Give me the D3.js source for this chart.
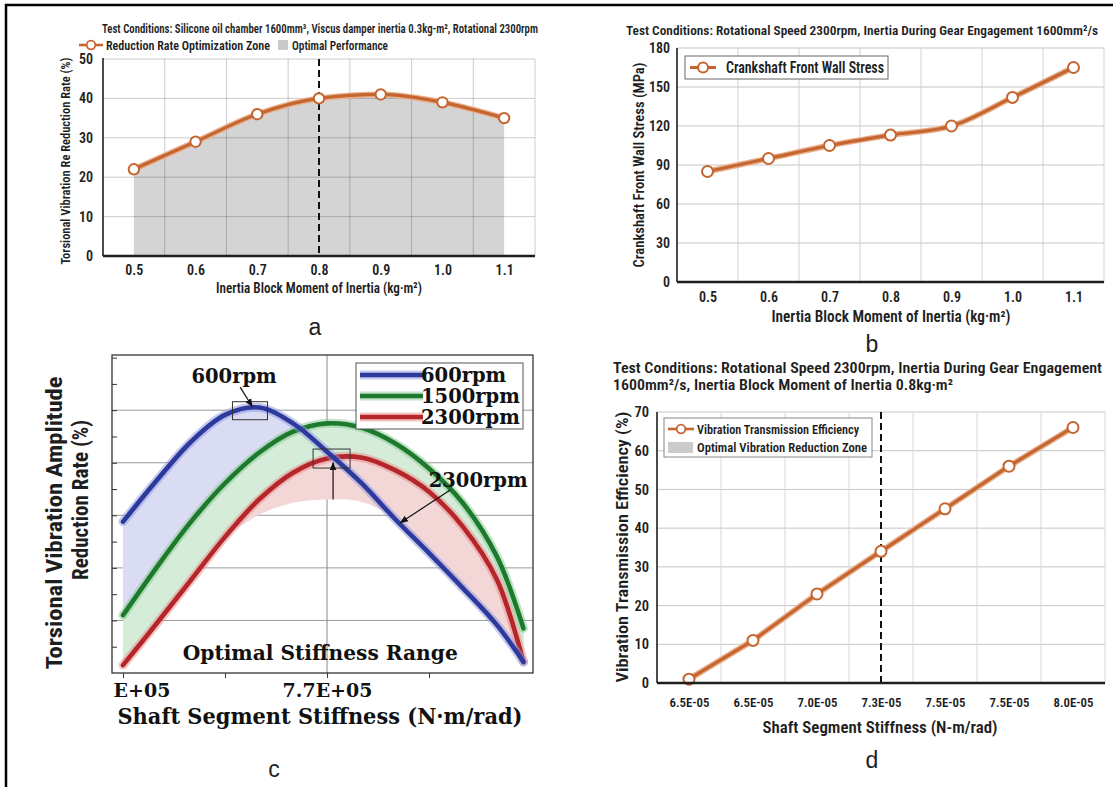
<!DOCTYPE html>
<html><head><meta charset="utf-8">
<script src="https://cdn.jsdelivr.net/npm/d3@7"></script>
<style>
body{margin:0;background:#fff;}
svg{display:block;}
.cond{font-family:"Liberation Sans Narrow","Roboto Condensed","Arial Narrow","DejaVu Sans Condensed","Liberation Sans",sans-serif;font-weight:600;}
</style></head><body>
<svg id="chart" width="1113" height="787"></svg>
<script>
// ---------- data ----------
const inertia = [0.5, 0.6, 0.7, 0.8, 0.9, 1.0, 1.1];
const reductionRate = [22, 29, 36, 40, 41, 39, 35];
const optimalInertia = 0.8;
const wallStress = [85, 95, 105, 113, 120, 142, 165];
const yTicksA = [0, 10, 20, 30, 40, 50];
const yTicksB = [0, 30, 60, 90, 120, 150, 180];

const stiffnessTickLabelsD = ["6.5E-05", "6.5E-05", "7.0E-05", "7.3E-05", "7.5E-05", "7.5E-05", "8.0E-05"];
const transmissionEff = [1, 11, 23, 34, 45, 56, 66];
const optimalIndexD = 3;
const yTicksD = [0, 10, 20, 30, 40, 50, 60, 70];

// panel c (stiffness in 1e5 N·m/rad, reduction rate in %)
const stiffnessC = [5.0, 5.45, 5.9, 6.35, 6.8, 7.25, 7.7, 8.15, 8.6, 9.05, 9.5, 9.95, 10.3];
const rpm600  = [28.8, 36.7, 44.0, 49.1, 50.5, 47.5, 42.1, 36.2, 29.3, 22.8, 16.1, 9.1, 2.1];
const rpm1500 = [11.0, 20.2, 28.8, 36.1, 41.9, 45.9, 47.5, 46.7, 43.7, 38.9, 32.3, 22.1, 8.5];
const rpm2300 = [1.5, 9.5, 17.7, 25.9, 33.0, 38.1, 40.8, 41.0, 38.6, 34.5, 27.8, 17.7, 2.1];
const rpm2300Lower = [null, null, null, 25.9, 30.1, 32.4, 33.0, 32.6, 29.3, 22.8, 16.1, 9.1, 2.1];
const stiffnessTicksC = [5.0, 6.35, 7.7, 9.05];
const stiffnessTickLabelsC = ["E+05", "", "7.7E+05", ""];
const seriesNamesC = ["600rpm", "1500rpm", "2300rpm"];
const peak600 = [6.68, 49.9];
const cross2300 = [7.76, 40.8];

// ---------- helpers ----------
const svg = d3.select("#chart");
const orange = "#c5652f";
const ink = "#1e1e1e";

function addText(g, s, x, y, o = {}) {
  const t = g.append("text").attr("x", x).attr("y", y).text(s)
    .attr("font-size", o.size || 14).attr("fill", o.fill || ink)
    .attr("text-anchor", o.anchor || "start");
  if (o.weight) t.attr("font-weight", o.weight);
  if (o.family) t.style("font-family", o.family);
  if (o.len) t.attr("textLength", o.len).attr("lengthAdjust", "spacingAndGlyphs");
  if (o.rotate) t.attr("transform", `rotate(-90,${x},${y})`);
  return t;
}
function hline(g, x1, x2, y, stroke, w, dash) {
  const l = g.append("line").attr("x1", x1).attr("x2", x2).attr("y1", y).attr("y2", y)
    .attr("stroke", stroke).attr("stroke-width", w);
  if (dash) l.attr("stroke-dasharray", dash);
  return l;
}
function vline(g, x, y1, y2, stroke, w, dash) {
  const l = g.append("line").attr("x1", x).attr("x2", x).attr("y1", y1).attr("y2", y2)
    .attr("stroke", stroke).attr("stroke-width", w);
  if (dash) l.attr("stroke-dasharray", dash);
  return l;
}
function styleAxisText(sel, size) {
  sel.select(".domain").remove();
  sel.attr("font-family", null).attr("font-size", null);
  sel.selectAll("text").attr("font-size", size).attr("fill", ink);
}

// outer frame (top and left)
hline(svg, 5, 1113, 5, "#000", 2.5);
vline(svg, 6, 4, 787, "#000", 2.5);

const defs = svg.append("defs");
defs.append("marker").attr("id", "arr").attr("viewBox", "0 0 10 10").attr("refX", 9).attr("refY", 5)
  .attr("markerWidth", 7).attr("markerHeight", 7).attr("orient", "auto-start-reverse")
  .append("path").attr("d", "M0,1 L10,5 L0,9 z").attr("fill", "#111");

// ================= Panel a =================
{
  const g = svg.append("g").attr("class", "cond");
  const x = d3.scaleLinear().domain([0.45, 1.15]).range([103, 535]);
  const y = d3.scaleLinear().domain([0, 50]).range([256, 59]);
  const pts = inertia.map((v, i) => [v, reductionRate[i]]);

  g.append("path").datum(pts)
    .attr("d", d3.area().x(d => x(d[0])).y0(y(0)).y1(d => y(d[1])).curve(d3.curveMonotoneX))
    .attr("fill", "#d4d4d4");
  yTicksA.filter(v => v > 0).forEach(v => hline(g, x(0.45), x(1.15), y(v), "rgba(0,0,0,0.2)", 1));
  const vgrid = inertia.slice(1).map((v, i) => (v + inertia[i]) / 2).concat([1.15]);
  vgrid.forEach(v => vline(g, x(v), y(50), y(0), "rgba(0,0,0,0.2)", 1));
  vline(g, x(optimalInertia), y(50), y(0), "#111", 2, "7,4");

  const line = d3.line().x(d => x(d[0])).y(d => y(d[1])).curve(d3.curveMonotoneX);
  g.append("path").datum(pts).attr("d", line).attr("fill", "none").attr("stroke", "#e9b08e").attr("stroke-width", 6);
  g.append("path").datum(pts).attr("d", line).attr("fill", "none").attr("stroke", orange).attr("stroke-width", 3.2);
  g.selectAll(".mk").data(pts).join("circle").attr("cx", d => x(d[0])).attr("cy", d => y(d[1])).attr("r", 5.2)
    .attr("fill", "#fff").attr("stroke", orange).attr("stroke-width", 2);

  vline(g, x(0.45), y(50) - 1, y(0), ink, 1.6);
  hline(g, x(0.45), x(1.15), y(0), ink, 2.4);

  const ya = g.append("g").attr("transform", `translate(${x(0.45)},0)`)
    .call(d3.axisLeft(y).tickValues(yTicksA).tickSize(0).tickPadding(10));
  styleAxisText(ya, 14);
  const xa = g.append("g").attr("transform", `translate(0,${y(0)})`)
    .call(d3.axisBottom(x).tickValues(inertia).tickFormat(d3.format(".1f")).tickSize(0).tickPadding(9));
  styleAxisText(xa, 14);

  addText(g, "Test Conditions: Silicone oil chamber 1600mm³, Viscus damper inertia 0.3kg-m², Rotational 2300rpm", 320, 33, {size: 13, anchor: "middle", len: 436});
  hline(g, 79, 103, 45, orange, 2.6);
  g.append("circle").attr("cx", 91).attr("cy", 45).attr("r", 4.3).attr("fill", "#fff").attr("stroke", orange).attr("stroke-width", 1.8);
  addText(g, "Reduction Rate Optimization Zone", 106, 50, {size: 13.5, len: 164});
  g.append("rect").attr("x", 278).attr("y", 40).attr("width", 10).attr("height", 10).attr("fill", "#cacaca");
  addText(g, "Optimal Performance", 292, 50, {size: 13.5, len: 96});
  addText(g, "Torsional Vibration Re Reduction Rate (%)", 70, 161, {size: 13.5, anchor: "middle", len: 207, rotate: true});
  addText(g, "Inertia Block Moment of Inertia (kg·m²)", 319, 293, {size: 15, anchor: "middle", len: 206});
  addText(svg, "a", 315, 335, {size: 23, anchor: "middle", family: "Liberation Sans, Arial, sans-serif"});
}

// ================= Panel b =================
{
  const g = svg.append("g").attr("class", "cond");
  const x = d3.scaleLinear().domain([0.45, 1.15]).range([677, 1104]);
  const y = d3.scaleLinear().domain([0, 180]).range([282, 48]);
  const pts = inertia.map((v, i) => [v, wallStress[i]]);

  yTicksB.filter(v => v > 0).forEach(v => hline(g, x(0.45), x(1.15), y(v), "#c6c6c6", 1));
  const vgrid = inertia.slice(1).map((v, i) => (v + inertia[i]) / 2).concat([1.15]);
  vgrid.forEach(v => vline(g, x(v), y(180), y(0), "#d2d2d2", 1));

  const line = d3.line().x(d => x(d[0])).y(d => y(d[1])).curve(d3.curveMonotoneX);
  g.append("path").datum(pts).attr("d", line).attr("fill", "none").attr("stroke", "#e9b08e").attr("stroke-width", 6);
  g.append("path").datum(pts).attr("d", line).attr("fill", "none").attr("stroke", orange).attr("stroke-width", 3.2);
  g.selectAll(".mk").data(pts).join("circle").attr("cx", d => x(d[0])).attr("cy", d => y(d[1])).attr("r", 5.5)
    .attr("fill", "#fff").attr("stroke", orange).attr("stroke-width", 2);

  vline(g, x(0.45), y(180), y(0), ink, 1.6);
  hline(g, x(0.45), x(1.15), y(0), ink, 2.4);
  const ya = g.append("g").attr("transform", `translate(${x(0.45)},0)`)
    .call(d3.axisLeft(y).tickValues(yTicksB).tickSize(0).tickPadding(7));
  styleAxisText(ya, 14);
  const xa = g.append("g").attr("transform", `translate(0,${y(0)})`)
    .call(d3.axisBottom(x).tickValues(inertia).tickFormat(d3.format(".1f")).tickSize(0).tickPadding(10));
  styleAxisText(xa, 14);

  g.append("rect").attr("x", 685).attr("y", 56).attr("width", 203).attr("height", 23)
    .attr("fill", "#fff").attr("stroke", "#666").attr("stroke-width", 1);
  hline(g, 690, 716, 67.5, orange, 3);
  g.append("circle").attr("cx", 703).attr("cy", 67.5).attr("r", 5).attr("fill", "#fff").attr("stroke", orange).attr("stroke-width", 2);
  addText(g, "Crankshaft Front Wall Stress", 726, 73, {size: 16, len: 158});

  addText(g, "Test Conditions: Rotational Speed 2300rpm, Inertia During Gear Engagement 1600mm²/s", 1098, 35, {size: 13.5, anchor: "end", len: 472});
  addText(g, "Crankshaft Front Wall Stress (MPa)", 644, 165, {size: 15, anchor: "middle", len: 205, rotate: true});
  addText(g, "Inertia Block Moment of Inertia (kg·m²)", 891, 322, {size: 16, anchor: "middle", len: 239});
  addText(svg, "b", 872, 352, {size: 23, anchor: "middle", family: "Liberation Sans, Arial, sans-serif"});
}

// ================= Panel d =================
{
  const g = svg.append("g").attr("class", "cond");
  const idx = d3.range(transmissionEff.length);
  const x = d3.scalePoint().domain(idx).range([657, 1105]).padding(0.5);
  const y = d3.scaleLinear().domain([0, 70]).range([683, 412]);
  const step = x.step();

  yTicksD.filter(v => v > 0).forEach(v => hline(g, 657, 1105, y(v), "#c6c6c6", 1));
  idx.forEach(i => vline(g, x(i) + step / 2, y(70), y(0), "#d6d6d6", 1));
  vline(g, x(optimalIndexD), y(70), y(0), "#111", 2, "7,4");

  const pts = idx.map(i => [i, transmissionEff[i]]);
  const line = d3.line().x(d => x(d[0])).y(d => y(d[1]));
  g.append("path").datum(pts).attr("d", line).attr("fill", "none").attr("stroke", "#e9b08e").attr("stroke-width", 6);
  g.append("path").datum(pts).attr("d", line).attr("fill", "none").attr("stroke", orange).attr("stroke-width", 3.2);
  g.selectAll(".mk").data(pts).join("circle").attr("cx", d => x(d[0])).attr("cy", d => y(d[1])).attr("r", 5.5)
    .attr("fill", "#fff").attr("stroke", orange).attr("stroke-width", 2);

  vline(g, 657, y(70), y(0), ink, 1.6);
  hline(g, 657, 1105, y(0), ink, 2.4);
  const ya = g.append("g").attr("transform", `translate(657,0)`)
    .call(d3.axisLeft(y).tickValues(yTicksD).tickSize(0).tickPadding(8));
  styleAxisText(ya, 14.5);
  const xa = g.append("g").attr("transform", `translate(0,${y(0)})`)
    .call(d3.axisBottom(x).tickFormat(i => stiffnessTickLabelsD[i]).tickSize(0).tickPadding(15));
  styleAxisText(xa, 12.5);
  xa.selectAll("text").attr("textLength", 40).attr("lengthAdjust", "spacingAndGlyphs");

  g.append("rect").attr("x", 664).attr("y", 418).attr("width", 208).attr("height", 39)
    .attr("fill", "#fff").attr("stroke", "#888").attr("stroke-width", 1);
  hline(g, 668, 694, 429, orange, 2.6);
  g.append("circle").attr("cx", 681).attr("cy", 429).attr("r", 4.3).attr("fill", "#fff").attr("stroke", orange).attr("stroke-width", 1.8);
  addText(g, "Vibration Transmission Efficiency", 697, 434, {size: 13.5, len: 162});
  g.append("rect").attr("x", 668).attr("y", 442).attr("width", 25).attr("height", 11).attr("fill", "#cbcbcb");
  addText(g, "Optimal Vibration Reduction Zone", 697, 452, {size: 13.5, len: 170});

  addText(g, "Test Conditions: Rotational Speed 2300rpm, Inertia During Gear Engagement", 613, 373, {size: 15.5, len: 489});
  addText(g, "1600mm²/s, Inertia Block Moment of Inertia 0.8kg·m²", 613, 390, {size: 15.5, len: 340});
  addText(g, "Vibration Transmission Efficiency (%)", 628, 547, {size: 17, anchor: "middle", len: 271, rotate: true});
  addText(g, "Shaft Segment Stiffness (N-m/rad)", 880, 733, {size: 17, anchor: "middle", len: 235});
  addText(svg, "d", 872, 768, {size: 23, anchor: "middle", family: "Liberation Sans, Arial, sans-serif"});
}

// ================= Panel c =================
{
  const serif = "'DejaVu Serif','Liberation Serif',serif";
  const g = svg.append("g");
  const x = d3.scaleLinear().domain([4.854, 10.426]).range([112, 533]);
  const y = d3.scaleLinear().domain([0, 60.5]).range([673, 355]);
  const colors = ["#2d3a9c", "#1d7a2c", "#b5262b"];
  const halos = ["#8c96df", "#86c891", "#e98c8c"];
  const fills = ["#dadcf4", "#d5ecd8", "#f3d6d6"];
  const series = [rpm600, rpm1500, rpm2300];

  // grid
  [10, 20, 30, 40, 50].forEach(v => hline(g, 112, 533, y(v), "#9a9a9a", 1));
  vline(g, x(7.7), 355, 673, "#8a8a8a", 1);

  const cv = d3.curveCatmullRom.alpha(0.5);
  // blue band: between 600 and 1500
  g.append("path").datum(stiffnessC.map((s, i) => [s, rpm1500[i], rpm600[i]]))
    .attr("d", d3.area().x(d => x(d[0])).y0(d => y(d[1])).y1(d => y(d[2])).curve(cv))
    .attr("fill", fills[0]);
  // green band: between 1500 and 2300
  g.append("path").datum(stiffnessC.map((s, i) => [s, rpm2300[i], rpm1500[i]]))
    .attr("d", d3.area().x(d => x(d[0])).y0(d => y(d[1])).y1(d => y(d[2])).curve(cv))
    .attr("fill", fills[1]);
  // red band: below 2300
  g.append("path").datum(stiffnessC.map((s, i) => [s, rpm2300Lower[i], rpm2300[i]]).filter(d => d[1] !== null))
    .attr("d", d3.area().x(d => x(d[0])).y0(d => y(d[1])).y1(d => y(d[2])).curve(cv))
    .attr("fill", fills[2]);

  const line = d3.line().x(d => x(d[0])).y(d => y(d[1])).curve(cv);
  [1, 2, 0].forEach(k => {
    const pts = stiffnessC.map((s, i) => [s, series[k][i]]);
    g.append("path").datum(pts).attr("d", line).attr("fill", "none").attr("stroke", halos[k])
      .attr("stroke-width", 9).attr("stroke-opacity", 0.5).attr("stroke-linecap", "round");
    g.append("path").datum(pts).attr("d", line).attr("fill", "none").attr("stroke", colors[k])
      .attr("stroke-width", 4.6).attr("stroke-linecap", "round");
  });

  // frame and ticks
  g.append("rect").attr("x", 112).attr("y", 355).attr("width", 421).attr("height", 318)
    .attr("fill", "none").attr("stroke", "#333").attr("stroke-width", 1.3);
  const yt = g.append("g").attr("transform", "translate(112,0)")
    .call(d3.axisRight(y).tickValues(d3.range(5, 61, 5)).tickSize(5).tickFormat(""));
  yt.select(".domain").remove();
  yt.selectAll("line").attr("stroke", "#333");
  const xt = g.append("g").attr("transform", "translate(0,673)")
    .call(d3.axisBottom(x).tickValues(stiffnessTicksC).tickSize(5).tickPadding(6)
      .tickFormat((d, i) => stiffnessTickLabelsC[i]));
  xt.select(".domain").remove();
  xt.attr("font-family", null);
  xt.selectAll("line").attr("stroke", "#333");
  xt.selectAll("text").attr("font-size", 19).attr("font-weight", "bold").attr("fill", "#111")
    .style("font-family", serif);
  xt.selectAll("text").filter((d, i) => i === 0).attr("text-anchor", "start").attr("dx", -10);

  // annotations
  const bw = 35, bh = 18;
  g.append("rect").attr("x", x(peak600[0]) - bw / 2).attr("y", y(peak600[1]) - bh / 2).attr("width", bw).attr("height", bh)
    .attr("fill", "none").attr("stroke", "#333").attr("stroke-width", 1);
  g.append("rect").attr("x", x(cross2300[0]) - 37 / 2).attr("y", y(cross2300[1]) - 19 / 2).attr("width", 37).attr("height", 19)
    .attr("fill", "none").attr("stroke", "#333").attr("stroke-width", 1);
  g.append("line").attr("x1", x(6.55)).attr("y1", y(54.4)).attr("x2", x(6.71)).attr("y2", y(50.7))
    .attr("stroke", "#111").attr("stroke-width", 1.2).attr("marker-end", "url(#arr)");
  g.append("line").attr("x1", x(7.78)).attr("y1", y(33.0)).attr("x2", x(7.78)).attr("y2", y(40.0))
    .attr("stroke", "#111").attr("stroke-width", 1.2).attr("marker-end", "url(#arr)");
  g.append("line").attr("x1", x(9.33)).attr("y1", y(34.8)).attr("x2", x(8.67)).attr("y2", y(28.6))
    .attr("stroke", "#111").attr("stroke-width", 1.2).attr("marker-end", "url(#arr)");
  addText(g, "600rpm", x(6.47), y(55.2), {size: 19.5, weight: "bold", anchor: "middle", family: serif, fill: "#111"});
  addText(g, "2300rpm", x(9.70), y(35.4), {size: 19.5, weight: "bold", anchor: "middle", family: serif, fill: "#111"});
  addText(g, "Optimal Stiffness Range", x(7.61), y(2.5), {size: 21, weight: "bold", anchor: "middle", family: serif, fill: "#111", len: 275});

  // legend
  g.append("rect").attr("x", 356).attr("y", 363).attr("width", 167).attr("height", 66)
    .attr("fill", "#fff").attr("stroke", "#555").attr("stroke-width", 1);
  seriesNamesC.forEach((nm, k) => {
    const ly = 375 + k * 21;
    hline(g, 360, 423, ly, halos[k], 9).attr("stroke-opacity", 0.5);
    hline(g, 360, 423, ly, colors[k], 4.6);
    addText(g, nm, 421, ly + 7, {size: 19.5, weight: "bold", family: serif, fill: "#111"});
  });

  addText(g, "Shaft Segment Stiffness (N·m/rad)", 320, 724, {size: 22, weight: "bold", anchor: "middle", family: serif, fill: "#111", len: 405});
  const gy = g.append("g").attr("class", "cond");
  addText(gy, "Torsional Vibration Amplitude", 62, 523, {size: 22, weight: "bold", anchor: "middle", len: 293, rotate: true});
  addText(gy, "Reduction Rate (%)", 88, 500, {size: 22, weight: "bold", anchor: "middle", len: 160, rotate: true});
  addText(svg, "c", 274, 777, {size: 23, anchor: "middle", family: "Liberation Sans, Arial, sans-serif"});
}
</script>
</body></html>
